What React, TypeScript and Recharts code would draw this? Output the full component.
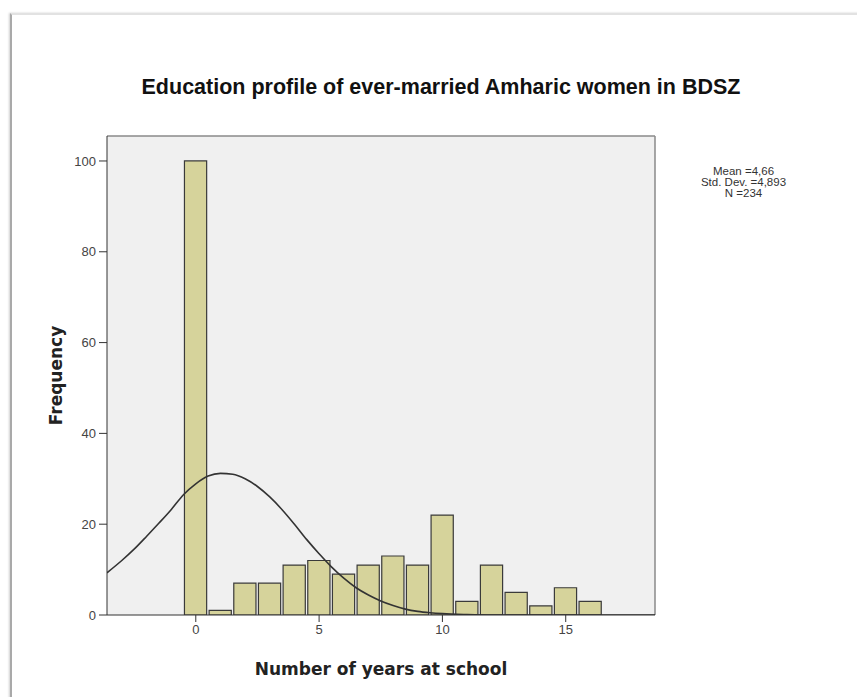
import React from "react";
import {
  ComposedChart,
  Bar,
  Line,
  XAxis,
  YAxis,
  CartesianGrid,
  ReferenceLine,
} from "recharts";

// Histogram bins (years at school) and their frequencies
const binCenters = [0, 1, 2, 3, 4, 5, 6, 7, 8, 9, 10, 11, 12, 13, 14, 15, 16];
const frequencies = [100, 1, 7, 7, 11, 12, 9, 11, 13, 11, 22, 3, 11, 5, 2, 6, 3];

// Fitted curve
const curveX = [
  -3.6, -3, -2.5, -2, -1.5, -1, -0.5, 0, 0.5, 1, 1.5, 2, 2.5, 3, 3.5, 4, 4.5, 5,
  5.5, 6, 6.5, 7, 7.5, 8, 8.5, 9, 9.5, 10, 11, 12, 13, 14, 15, 16, 17, 18, 18.62,
];
const curveY = [
  9.3, 12.0, 14.5, 17.3, 20.2, 23.2, 26.5, 28.9, 30.6, 31.2, 31.0, 30.0, 28.3,
  26.0, 23.2, 20.0, 16.6, 13.5, 10.6, 8.1, 6.0, 4.4, 3.1, 2.1, 1.3, 0.8, 0.5,
  0.3, 0.1, 0, 0, 0, 0, 0, 0, 0, 0,
];

const xTicks = [0, 5, 10, 15];
const yTicks = [0, 20, 40, 60, 80, 100];
const xDomain = [-3.6, 18.62];
const yDomain = [0, 105.5];

const title = "Education profile of ever-married Amharic women in BDSZ";
const xLabel = "Number of years at school";
const yLabel = "Frequency";
const statsLines = ["Mean =4,66", "Std. Dev. =4,893", "N =234"];

const barTable = binCenters.map((x, i) => ({ x, freq: frequencies[i] }));
const curveTable = curveX.map((x, i) => ({ x, curve: curveY[i] }));

const tickFont = { fill: "#444", fontSize: 13, fontFamily: "'Liberation Sans', Arial, sans-serif" };

export default function App() {
  return (
    <div
      style={{
        position: "absolute",
        left: 0,
        top: 0,
        width: 857,
        height: 697,
        background: "#ffffff",
        overflow: "hidden",
      }}
    >
      <div
        style={{
          position: "absolute",
          left: 10,
          top: 13,
          width: 870,
          height: 683,
          borderLeft: "2px solid #a9a9a9",
          borderTop: "2px solid #e2e2e2",
          borderBottom: "1px solid #e6e6e6",
          boxShadow: "-1px 0 2px #d0d0d0",
        }}
      />
      <div
        style={{
          position: "absolute",
          left: 0,
          width: 882,
          top: 75,
          textAlign: "center",
          fontFamily: "'Liberation Sans', Arial, sans-serif",
          fontWeight: "bold",
          fontSize: 21.5,
          color: "#111",
          whiteSpace: "nowrap",
        }}
      >
        {title}
      </div>
      <div
        style={{
          position: "absolute",
          left: 680,
          width: 127,
          top: 166,
          textAlign: "center",
          fontFamily: "'Liberation Sans', Arial, sans-serif",
          fontSize: 11.5,
          lineHeight: "11px",
          color: "#333",
        }}
      >
        {statsLines.map((s) => (
          <div key={s}>{s}</div>
        ))}
      </div>
      <div style={{ position: "absolute", left: 0, top: 0 }}>
        <ComposedChart
          width={857}
          height={697}
          data={barTable}
          margin={{ top: 136, right: 202, bottom: 52, left: 67 }}
        >
          <CartesianGrid fill="#f0f0f0" stroke="none" horizontal={false} vertical={false} />
          <XAxis
            dataKey="x"
            type="number"
            domain={xDomain}
            ticks={xTicks}
            allowDataOverflow
            height={30}
            tickSize={7}
            tickMargin={3}
            stroke="#333"
            tick={tickFont}
            label={{
              value: xLabel,
              position: "insideBottom",
              offset: -30,
              fill: "#222",
              fontSize: 17,
              fontWeight: "bold",
              fontFamily: "'DejaVu Sans', Verdana, sans-serif",
            }}
          />
          <XAxis
            xAxisId="curve"
            dataKey="x"
            type="number"
            domain={xDomain}
            allowDataOverflow
            hide
          />
          <YAxis
            type="number"
            domain={yDomain}
            ticks={yTicks}
            allowDataOverflow
            width={40}
            tickSize={8}
            tickMargin={3}
            stroke="#333"
            tick={tickFont}
            label={{
              value: yLabel,
              angle: -90,
              position: "insideLeft",
              offset: -11,
              fill: "#222",
              fontSize: 17,
              fontWeight: "bold",
              fontFamily: "'DejaVu Sans', Verdana, sans-serif",
              style: { textAnchor: "middle" },
            }}
          />
          <ReferenceLine y={yDomain[1]} stroke="#8a8a8a" strokeWidth={1.5} />
          <ReferenceLine x={xDomain[1]} stroke="#8a8a8a" strokeWidth={1.5} />
          <Bar
            dataKey="freq"
            barSize={24.7}
            fill="#d6d39b"
            stroke="#3a3a3a"
            strokeWidth={1.2}
            isAnimationActive={false}
          />
          <Line
            xAxisId="curve"
            data={curveTable}
            dataKey="curve"
            type="monotone"
            stroke="#333"
            strokeWidth={1.6}
            dot={false}
            activeDot={false}
            isAnimationActive={false}
          />
        </ComposedChart>
      </div>
    </div>
  );
}
